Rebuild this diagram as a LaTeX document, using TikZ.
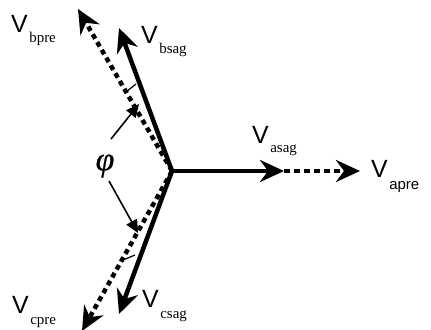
\documentclass[tikz,border=0pt]{standalone}
\usepackage{fontspec}
\setmainfont{Liberation Serif}
\newfontfamily\arialf{Liberation Sans}
\newfontfamily\phif[FakeBold=0.6]{Liberation Serif}
\usetikzlibrary{arrows.meta}
\newcommand{\vlab}[2]{{\fontsize{25}{25}\selectfont\arialf V}\hspace{1.5bp}\raisebox{-#2}{\fontsize{15}{15}\selectfont #1}}
\begin{document}
\begin{tikzpicture}[x=1bp,y=-1bp,
  vec/.style={line width=4.5bp, -{Stealth[length=24bp,width=22bp,inset=8bp]}},
  pre/.style={vec, dash pattern=on 5bp off 4bp},
  preh/.style={vec, dash pattern=on 6bp off 4bp},
  lab/.style={anchor=base west, inner sep=0pt},
  pointer/.style={line width=1.6bp, -{Triangle[length=13bp,width=12bp]}},
  tickmark/.style={line width=1.2bp}]
\useasboundingbox (0,0) rectangle (431,330);
\coordinate (O) at (172,171);
\coordinate (Ta) at (284,171);
\coordinate (Tap) at (360,171);
\coordinate (Tb) at (119,28);
\coordinate (Tbp) at (78,9);
\coordinate (Tc) at (119,314);
\coordinate (Tcp) at (82,331);
% dotted (pre) vectors
\draw[pre] (O) -- (Tbp);
\draw[pre] (O) -- (Tcp);
\draw[preh] (Ta) -- (Tap);
% solid (sag) vectors
\draw[vec] (O) -- (Ta);
\draw[vec] (O) -- (Tb);
\draw[vec] (O) -- (Tc);
% angle ticks
\coordinate (u1) at (126,92);
\coordinate (u2) at (136,84);
\coordinate (l1) at (123,260);
\coordinate (l2) at (135,255);
\draw[tickmark] (u1) -- (u2);
\draw[tickmark] (l1) -- (l2);
% labels
\node[lab] (Lbpre) at (11,32) {\vlab{bpre}{10bp}};
\node[lab] (Lbsag) at (141,43) {\vlab{bsag}{10bp}};
\node[lab] (Lasag) at (252,143) {\vlab{asag}{9bp}};
\node[lab] (Lapre) at (371,177) {{\fontsize{25}{25}\selectfont\arialf V}\hspace{1.5bp}\raisebox{-12bp}{\fontsize{15}{15}\selectfont\arialf apre}};
\node[lab] (Lcpre) at (12,313) {\vlab{cpre}{11bp}};
\node[lab] (Lcsag) at (142,307) {\vlab{csag}{11bp}};
% phi and pointers
\node[inner sep=0pt] (phi) at (105,166) {\fontsize{34}{34}\selectfont\phif\itshape φ};
\coordinate (p1) at (111,139);
\coordinate (p1e) at (139,104);
\coordinate (p2) at (109,181);
\coordinate (p2e) at (138,233);
\draw[pointer] (p1) -- (p1e);
\draw[pointer] (p2) -- (p2e);
\end{tikzpicture}
\end{document}
